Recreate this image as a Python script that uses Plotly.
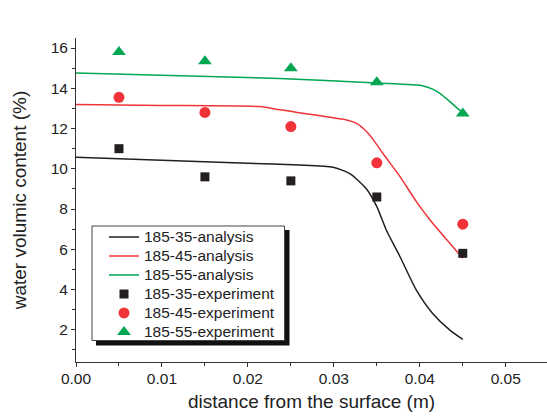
import plotly.graph_objects as go

# Measured moisture (experiment) at five depths
depth_exp = [0.005, 0.015, 0.025, 0.035, 0.045]
exp_185_35 = [11.0, 9.6, 9.4, 8.6, 5.8]
exp_185_45 = [13.55, 12.8, 12.1, 10.3, 7.25]
exp_185_55 = [15.8, 15.35, 15.0, 14.3, 12.75]

# Analytical profiles
depth_35 = [0.0, 0.01, 0.02, 0.026, 0.0299, 0.0319, 0.0338, 0.035, 0.0361, 0.0377, 0.0396, 0.0415, 0.0435, 0.045]
ana_185_35 = [10.58, 10.43, 10.27, 10.19, 10.08, 9.75, 9.0, 8.12, 6.96, 5.63, 3.97, 2.81, 1.98, 1.52]

depth_45 = [0.0, 0.01, 0.0214, 0.0237, 0.0315, 0.0326, 0.0338, 0.0346, 0.0357, 0.0377, 0.0396, 0.0415, 0.0435, 0.045]
ana_185_45 = [13.19, 13.15, 13.09, 12.93, 12.43, 12.27, 11.85, 11.44, 10.77, 9.61, 8.37, 7.29, 6.3, 5.55]

depth_55 = [0.0, 0.0237, 0.035, 0.0404, 0.0415, 0.0423, 0.0435, 0.045]
ana_185_55 = [14.76, 14.49, 14.26, 14.12, 13.96, 13.76, 13.34, 12.77]

BLACK = "#231f20"
RED = "#ef3338"
GREEN = "#00a651"
FONT = "Liberation Sans, Arial, sans-serif"

# plot area in pixels (for placing the legend frame in paper coordinates)
PX_L, PX_R, PX_T, PX_B = 76, 547, 38, 362


def px_x(px):
    return (px - PX_L) / (PX_R - PX_L)


def px_y(py):
    return (PX_B - py) / (PX_B - PX_T)


def legend_label(text):
    # larger glyphs than the legend's nominal size keep the rows tightly packed
    return f'<span style="font-size:15.5px">{text}</span>'


fig = go.Figure()
for x, y, name, col in [
    (depth_35, ana_185_35, "185-35-analysis", BLACK),
    (depth_45, ana_185_45, "185-45-analysis", RED),
    (depth_55, ana_185_55, "185-55-analysis", GREEN),
]:
    fig.add_trace(go.Scatter(x=x, y=y, mode="lines", name=legend_label(name),
                             line=dict(color=col, width=1.5, shape="spline", smoothing=0.6)))

for y, name, col, sym, size in [
    (exp_185_35, "185-35-experiment", BLACK, "square", 9),
    (exp_185_45, "185-45-experiment", RED, "circle", 11),
    (exp_185_55, "185-55-experiment", GREEN, "triangle-up", 12),
]:
    fig.add_trace(go.Scatter(x=depth_exp, y=y, mode="markers", name=legend_label(name),
                             marker=dict(color=col, symbol=sym, size=size,
                                         line=dict(width=0))))

axis_common = dict(
    showline=True, linecolor="#333", linewidth=1, showgrid=False, zeroline=False,
    ticks="outside", ticklen=4, tickcolor="#333", tickwidth=1,
    tickfont=dict(family=FONT, size=15.5, color="#222"),
    title_font=dict(family=FONT, size=19, color="#222"),
)

fig.update_xaxes(range=[0, 0.0548], dtick=0.01, tick0=0, tickformat=".2f",
                 minor=dict(ticks="outside", ticklen=3, dtick=0.005, tick0=0, tickcolor="#333"),
                 title_text="distance from the surface (m)", title_standoff=9,
                 ticklabelstandoff=-2,
                 **axis_common)
fig.update_yaxes(range=[0.4, 16.5], dtick=2, tick0=0,
                 minor=dict(ticks="outside", ticklen=3, dtick=1, tick0=0, tickcolor="#333"),
                 title_text="water volumic content (%)", title_standoff=19,
                 **axis_common)

# legend frame: drop shadow, then white box with a thin border
fig.add_shape(type="rect", xref="paper", yref="paper",
              x0=px_x(96), x1=px_x(289.5), y0=px_y(345.5), y1=px_y(230),
              fillcolor="#111", line=dict(width=0), layer="above")
fig.add_shape(type="rect", xref="paper", yref="paper",
              x0=px_x(92), x1=px_x(284.5), y0=px_y(340.5), y1=px_y(226),
              fillcolor="white", line=dict(color="#444", width=1), layer="above")

fig.update_layout(
    width=547, height=418,
    margin=dict(l=PX_L, r=547 - PX_R, t=PX_T, b=418 - PX_B),
    paper_bgcolor="white", plot_bgcolor="white",
    showlegend=True,
    legend=dict(x=px_x(92), y=px_y(222.4), xanchor="left", yanchor="top",
                bgcolor="rgba(0,0,0,0)", borderwidth=0,
                font=dict(family=FONT, size=12, color="#222"),
                indentation=12, tracegroupgap=0),
)

fig.write_html("out.html")
